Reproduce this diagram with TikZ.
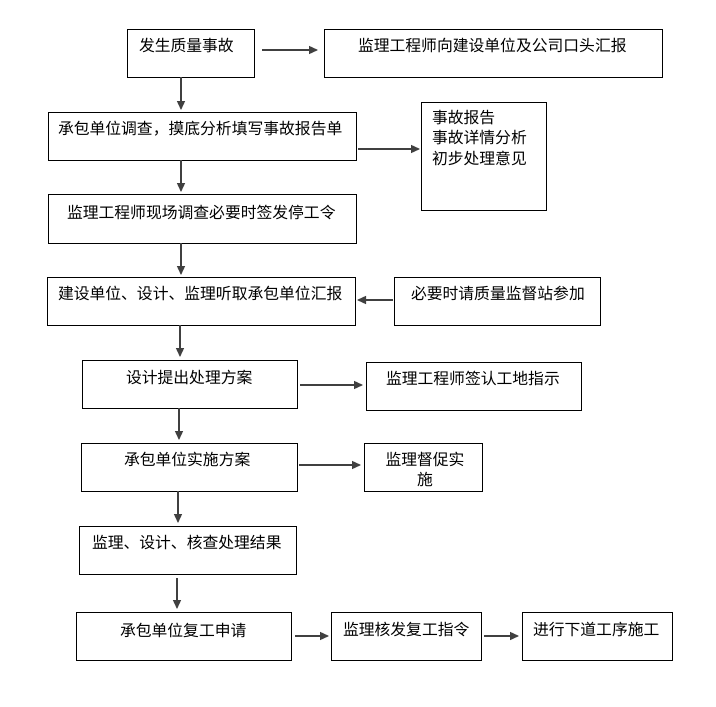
\documentclass[tikz,border=0pt]{standalone}
\usepackage{fontspec}
\setmainfont{Noto Sans CJK SC}
\usetikzlibrary{arrows.meta}
\definecolor{arrowgray}{gray}{0.25}
\begin{document}
\begin{tikzpicture}[x=1pt,y=-1pt,
  box/.style={draw=black,line width=0.9pt,rectangle,inner sep=0pt,outer sep=0pt},
  txt/.style={inner sep=0pt,outer sep=0pt,anchor=west,font=\fontsize{15.8pt}{20.5pt}\selectfont},
  arr/.style={draw=arrowgray,line width=1.4pt,-{Triangle[length=9pt,width=8pt]}}]
\useasboundingbox[fill=white] (0,0) rectangle (716,707);
% boxes
\node[box,minimum width=127pt,minimum height=48pt] (b1) at (190.5,53) {};
\node[box,minimum width=338pt,minimum height=48pt] (b2) at (493,53) {};
\node[box,minimum width=308pt,minimum height=48pt] (b3) at (202,136) {};
\node[box,minimum width=125pt,minimum height=108pt] (b4) at (483.5,156) {};
\node[box,minimum width=308pt,minimum height=49pt] (b5) at (202,218.5) {};
\node[box,minimum width=308pt,minimum height=48pt] (b6) at (201,301) {};
\node[box,minimum width=206pt,minimum height=48pt] (b7) at (497,301) {};
\node[box,minimum width=215pt,minimum height=48pt] (b8) at (189.5,384) {};
\node[box,minimum width=215pt,minimum height=48pt] (b9) at (473.5,386) {};
\node[box,minimum width=216pt,minimum height=48pt] (b10) at (189,467) {};
\node[box,minimum width=118pt,minimum height=48pt] (b11) at (423,467) {};
\node[box,minimum width=217pt,minimum height=48pt] (b12) at (187.5,550) {};
\node[box,minimum width=215pt,minimum height=48pt] (b13) at (183.5,636) {};
\node[box,minimum width=150pt,minimum height=48pt] (b14) at (406,636) {};
\node[box,minimum width=150pt,minimum height=48pt] (b15) at (597,636) {};
% texts
\node[txt] (t1) at (139,45) {发生质量事故};
\node[txt] (t2) at (358,45) {监理工程师向建设单位及公司口头汇报};
\node[txt] (t3) at (58,129) {承包单位调查，摸底分析填写事故报告单};
\node[txt,align=left] (t4) at (432,138) {事故报告\\事故详情分析\\初步处理意见};
\node[txt] (t5) at (67,212) {监理工程师现场调查必要时签发停工令};
\node[txt] (t6) at (58,293) {建设单位、设计、监理听取承包单位汇报};
\node[txt] (t7) at (411,293) {必要时请质量监督站参加};
\node[txt] (t8) at (126,377) {设计提出处理方案};
\node[txt] (t9) at (386,378) {监理工程师签认工地指示};
\node[txt] (t10) at (124,459) {承包单位实施方案};
\node[txt,anchor=center,align=center] (t11) at (425,469.5) {监理督促实\\施};
\node[txt] (t12) at (92,542) {监理、设计、核查处理结果};
\node[txt] (t13) at (120,630) {承包单位复工申请};
\node[txt] (t14) at (343,629) {监理核发复工指令};
\node[txt] (t15) at (533,629) {进行下道工序施工};
% arrows
\draw[arr,shorten <=8pt,shorten >=6pt] ([yshift=3pt]b1.east) -- ([yshift=3pt]b2.west);
\draw[arr,shorten >=2pt] ([xshift=-9.5pt]b1.south) -- ([xshift=-21pt]b3.north);
\draw[arr,shorten <=2pt,shorten >=1pt] ([yshift=-13pt]b3.east) -- ([yshift=7pt]b4.west);
\draw[arr,shorten >=2pt] ([xshift=-21pt]b3.south) -- ([xshift=-21pt]b5.north);
\draw[arr,shorten >=2pt] ([xshift=-21pt]b5.south) -- ([xshift=-20pt]b6.north);
\draw[arr,shorten <=1pt,shorten >=2pt] ([yshift=1pt]b7.west) -- ([yshift=1pt]b6.east);
\draw[arr,shorten >=3pt] ([xshift=-21pt]b6.south) -- ([xshift=-9.5pt]b8.north);
\draw[arr,shorten <=3pt,shorten >=3pt] ([yshift=-1pt]b8.east) -- ([yshift=1pt]b9.west);
\draw[arr,shorten >=3pt] ([xshift=-10.5pt]b8.south) -- ([xshift=-10pt]b10.north);
\draw[arr,shorten <=2pt,shorten >=3pt] ([yshift=2pt]b10.east) -- ([yshift=2pt]b11.west);
\draw[arr,shorten >=3pt] ([xshift=-11pt]b10.south) -- ([xshift=-9.5pt]b12.north);
\draw[arr,shorten <=4pt,shorten >=3pt] ([xshift=-10.5pt]b12.south) -- ([xshift=-6.5pt]b13.north);
\draw[arr,shorten <=4pt,shorten >=2pt] (b13.east) -- (b14.west);
\draw[arr,shorten <=3pt,shorten >=3pt] (b14.east) -- (b15.west);
\end{tikzpicture}
\end{document}
